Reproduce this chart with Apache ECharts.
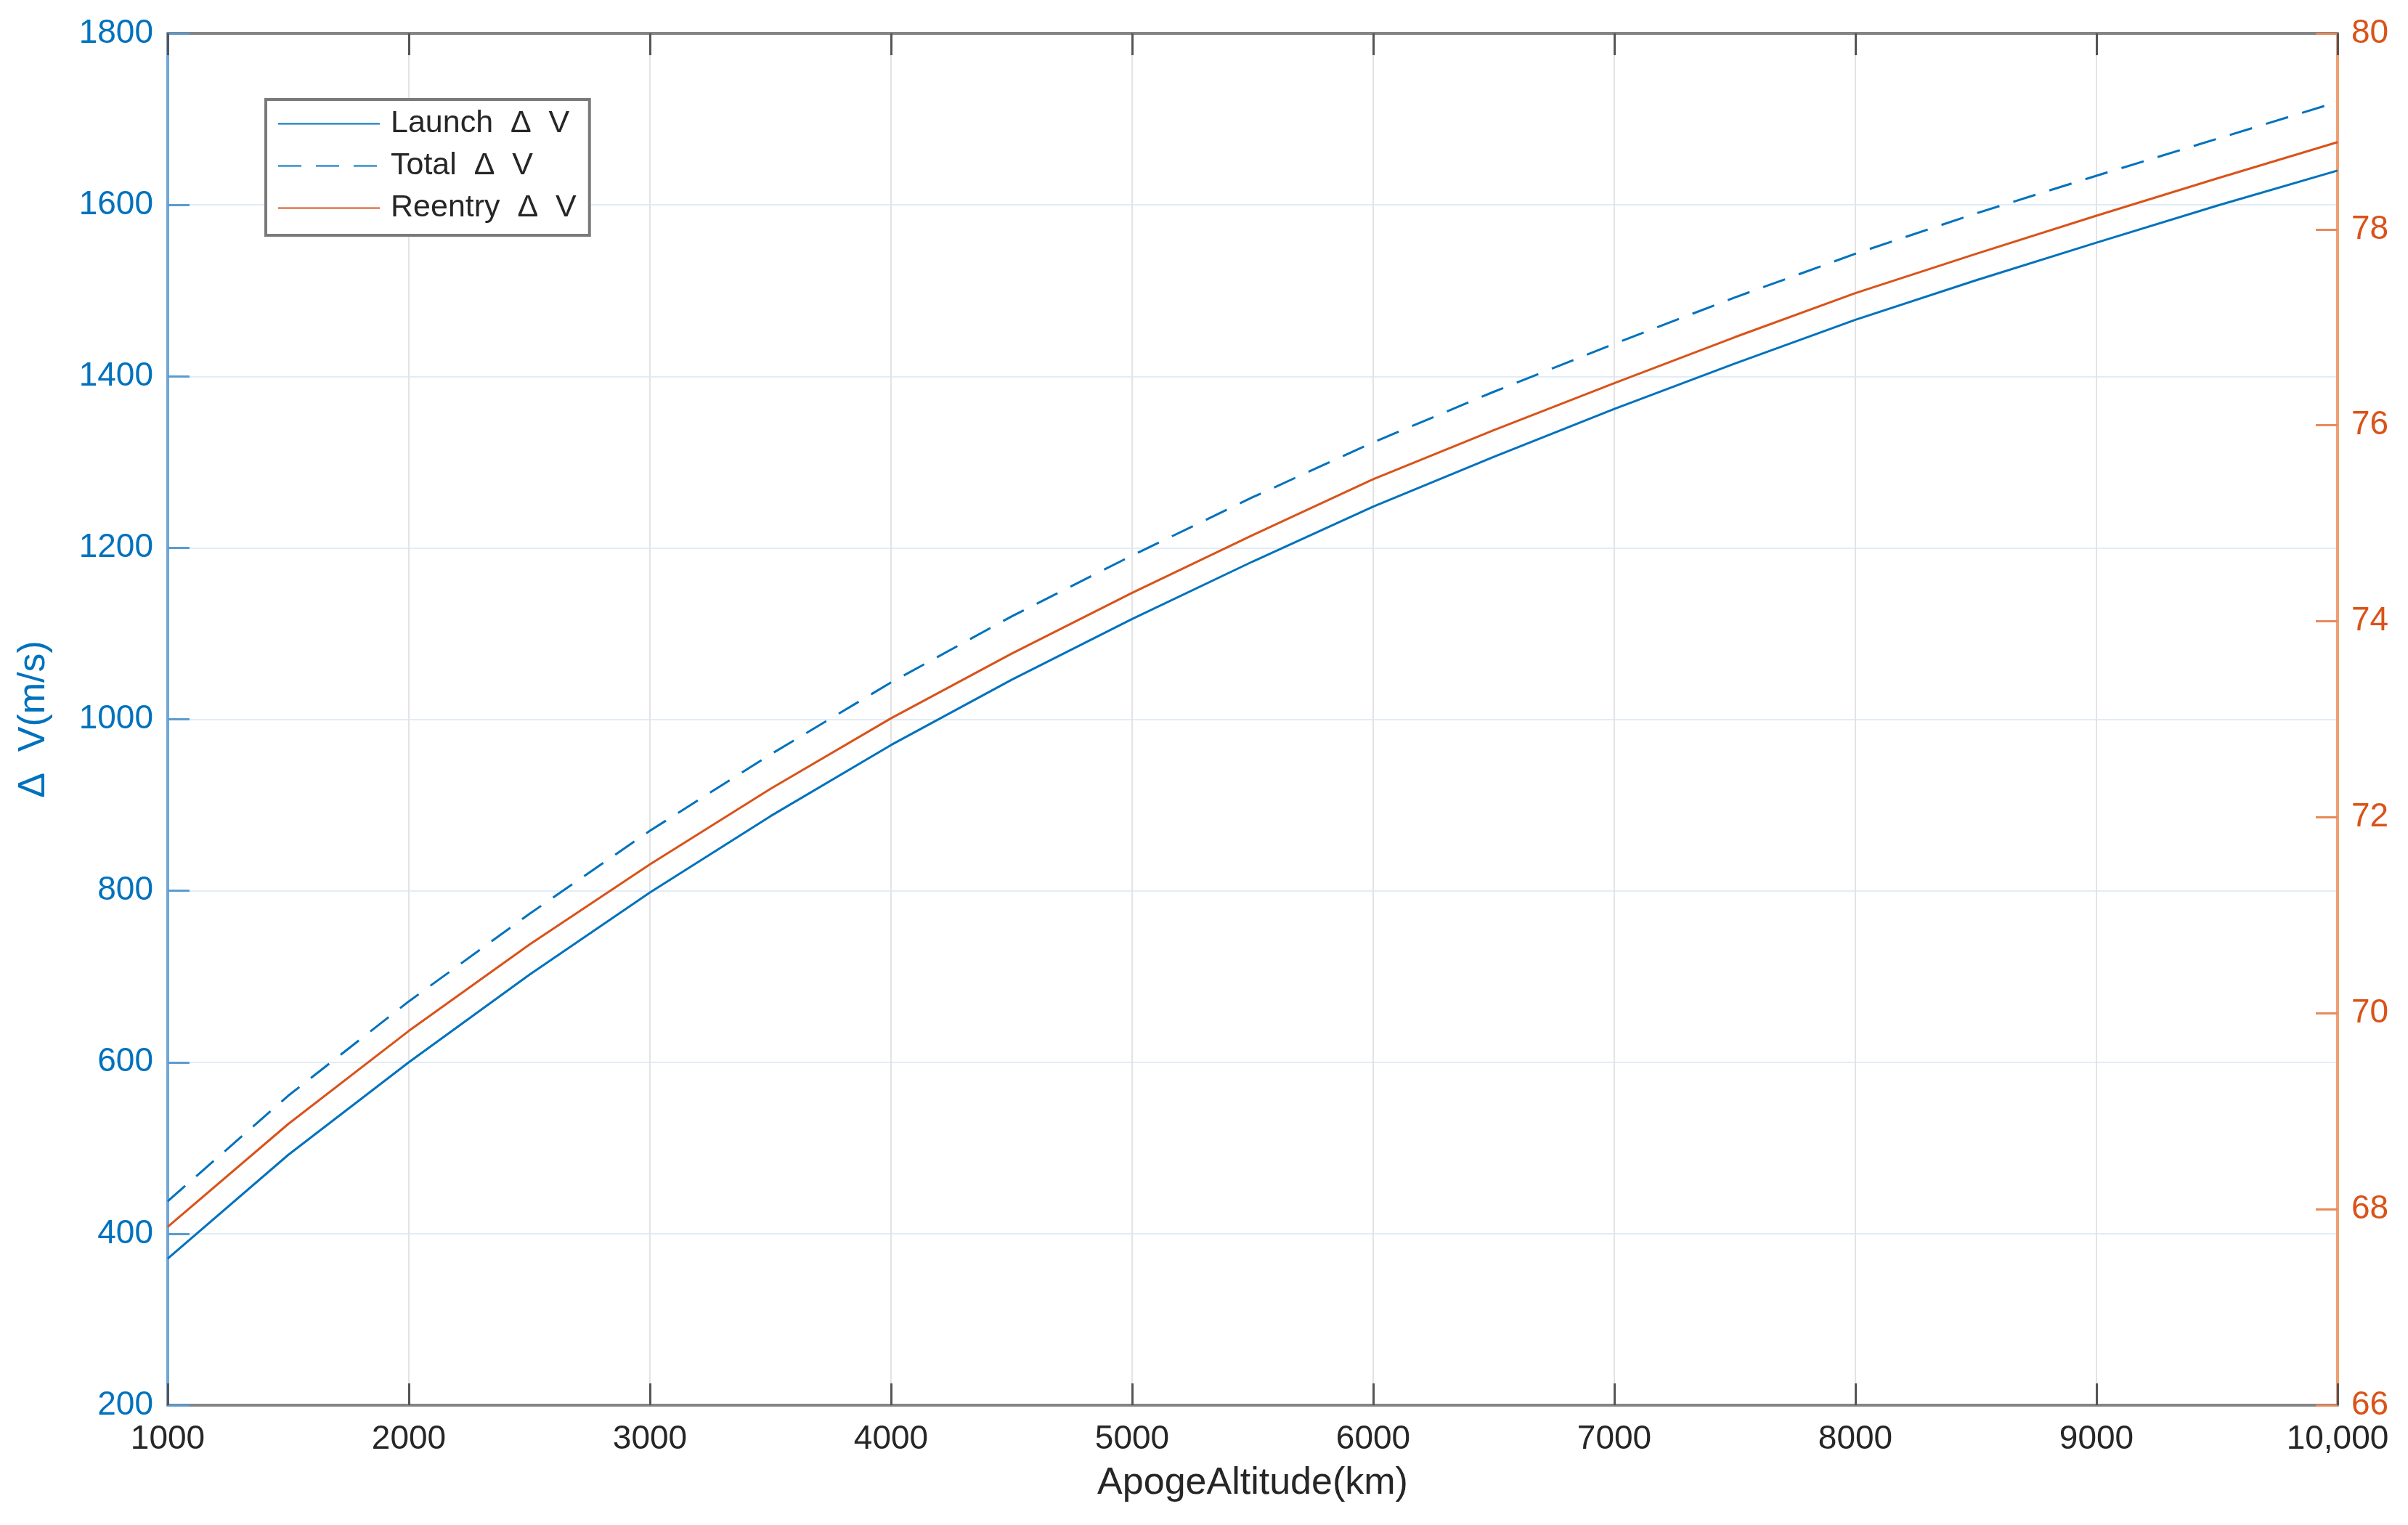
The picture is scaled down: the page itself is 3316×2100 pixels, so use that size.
<!DOCTYPE html>
<html>
<head>
  <meta charset="utf-8">
  <title>Delta V vs Apogee Altitude</title>
  <script src="https://cdn.jsdelivr.net/npm/echarts@6/dist/echarts.min.js"></script>
  <style>
    html, body { margin: 0; padding: 0; background: #fff; }
    #main { width: 3316px; height: 2100px; }
  </style>
</head>
<body>
  <div id="main"></div>
  <script>
    // apogee altitude (km)
    var altitude = [1000, 1500, 2000, 2500, 3000, 3500, 4000, 4500, 5000, 5500,
                    6000, 6500, 7000, 7500, 8000, 8500, 9000, 9500, 10000];
    // left axis, m/s
    var launchDV = [371, 492, 600, 702, 798, 887, 970, 1046, 1117, 1184,
                    1248, 1306, 1362, 1415, 1466, 1512, 1556, 1599, 1640];
    var totalDV = [438, 561, 671, 773, 870, 959, 1043, 1120, 1191, 1259,
                   1323, 1382, 1438, 1492, 1543, 1590, 1634, 1677, 1720];
    // right axis, m/s
    var reentryDV = [67.82, 68.87, 69.82, 70.70, 71.52, 72.29, 73.01, 73.67, 74.29, 74.88,
                     75.45, 75.95, 76.43, 76.90, 77.35, 77.75, 78.14, 78.52, 78.89];

    var blue = '#0072BD';
    var orange = '#D95319';
    var font = '"Liberation Sans", Arial, sans-serif';

    function pairs(ys) {
      return altitude.map(function (x, i) { return [x, ys[i]]; });
    }

    var chart = echarts.init(document.getElementById('main'));

    var option = {
      backgroundColor: '#fff',
      animation: false,
      textStyle: { fontFamily: font },
      grid: { left: 231, right: 97, top: 46, bottom: 165, containLabel: false },
      legend: {
        orient: 'vertical',
        left: 366,
        top: 137,
        padding: [12, 18, 16, 16],
        itemGap: 15,
        itemWidth: 140,
        itemHeight: 16,
        backgroundColor: '#fff',
        borderColor: '#7a7a7a',
        borderWidth: 4,
        itemStyle: { opacity: 0 },
        textStyle: { fontSize: 43, color: '#262626', fontFamily: font, padding: [0, 0, 0, 10] },
        data: ['Launch  Δ  V', 'Total  Δ  V', 'Reentry  Δ  V']
      },
      xAxis: [{
        type: 'value',
        position: 'bottom',
        min: 1000, max: 10000, interval: 1000,
        name: 'ApogeAltitude(km)',
        nameLocation: 'middle',
        nameGap: 82,
        nameTextStyle: { fontSize: 52, color: '#262626', fontFamily: font },
        axisLine: { lineStyle: { color: '#858585', width: 4 } },
        axisTick: { inside: true, length: 30, lineStyle: { color: '#555', width: 3 } },
        axisLabel: {
          fontSize: 46, color: '#262626', margin: 24, fontFamily: font,
          formatter: function (v) { return v === 10000 ? '10,000' : String(v); }
        },
        splitLine: { show: true, lineStyle: { color: '#e3e3e3', width: 2 } }
      }, {
        type: 'value',
        position: 'top',
        min: 1000, max: 10000, interval: 1000,
        axisLine: { lineStyle: { color: '#858585', width: 4 } },
        axisTick: { inside: true, length: 30, lineStyle: { color: '#555', width: 3 } },
        axisLabel: { show: false },
        splitLine: { show: false }
      }],
      yAxis: [{
        type: 'value',
        position: 'left',
        min: 200, max: 1800, interval: 200,
        name: 'Δ  V(m/s)',
        nameLocation: 'middle',
        nameGap: 158,
        nameRotate: 90,
        nameTextStyle: { fontSize: 52, color: blue, fontFamily: font },
        axisLine: { show: true, lineStyle: { color: '#6fa7d7', width: 4 } },
        axisTick: { show: true, inside: true, length: 30, lineStyle: { color: '#5b9bd0', width: 3 } },
        axisLabel: {
          fontSize: 46, color: blue, margin: 20, fontFamily: font,
          formatter: function (v) { return String(v); }
        },
        splitLine: { show: true, lineStyle: { color: '#e2ecf6', width: 2 } }
      }, {
        type: 'value',
        position: 'right',
        min: 66, max: 80, interval: 2,
        axisLine: { show: true, lineStyle: { color: '#eea074', width: 4 } },
        axisTick: { show: true, inside: true, length: 30, lineStyle: { color: '#e88a5a', width: 3 } },
        axisLabel: { fontSize: 46, color: orange, margin: 19, fontFamily: font },
        splitLine: { show: false }
      }],
      series: [{
        name: 'Launch  Δ  V',
        type: 'line',
        xAxisIndex: 0, yAxisIndex: 0,
        symbol: 'none',
        data: pairs(launchDV),
        lineStyle: { color: blue, width: 3 },
        itemStyle: { color: blue }
      }, {
        name: 'Total  Δ  V',
        type: 'line',
        xAxisIndex: 0, yAxisIndex: 0,
        symbol: 'none',
        data: pairs(totalDV),
        lineStyle: { color: blue, width: 3, type: [32, 20] },
        itemStyle: { color: blue }
      }, {
        name: 'Reentry  Δ  V',
        type: 'line',
        xAxisIndex: 0, yAxisIndex: 1,
        symbol: 'none',
        data: pairs(reentryDV),
        lineStyle: { color: orange, width: 3 },
        itemStyle: { color: orange }
      }]
    };

    chart.setOption(option);
  </script>
</body>
</html>
